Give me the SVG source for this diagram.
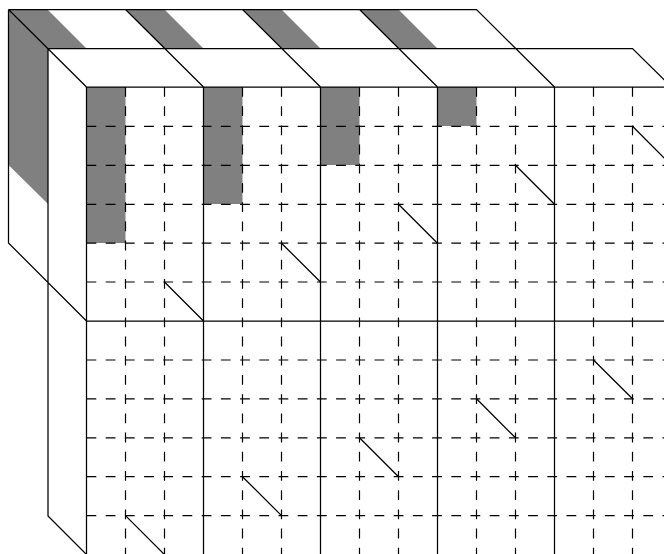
<svg xmlns="http://www.w3.org/2000/svg" width="664" height="554" viewBox="0 0 664 554">
<style>
.g{fill:#808080;stroke:none}
.s{fill:none;stroke:#000;stroke-width:1.25}
.d{fill:none;stroke:#000;stroke-width:1.2;stroke-dasharray:9.8 9.4}
</style>
<rect width="664" height="554" fill="#fff"/>
<path class="g" d="M8.5 9.5H47.5L86.5 48.5H48ZM125.5 9.5H164.5L203.5 48.5H164.5ZM242.5 9.5H281.5L320.5 48.5H281.5ZM359.5 9.5H398.5L437.5 48.5H398.5Z"/>
<path class="g" d="M8.5 9.5L48 48.5V204L8.5 165Z"/>
<path class="g" d="M86.5 87H125.5V243H86.5ZM203.5 87H242.5V204H203.5ZM320.5 87H359.5V165H320.5ZM437.5 87H476.5V126H437.5Z"/>
<path class="d" d="M125.5 87V554M164.5 87V554M242.5 87V554M281.5 87V554M359.5 87V554M398.5 87V554M476.5 87V554M515.5 87V554M593.5 87V554M632.5 87V554"/>
<path class="d" d="M86.5 126.3H664M86.5 165.3H664M86.5 204.3H664M86.5 243.2H664M86.5 282H664M86.5 360H664M86.5 398.8H664M86.5 437.8H664M86.5 476.7H664M86.5 515.6H664"/>
<path class="s" d="M8.5 9.5H476.5L554.5 87M48 48.5H632.5L671.5 87M8.5 9.5V243L86.5 321M8.5 9.5L86.5 87M48 48.5V516L87 555M125.5 9.5L203.5 87M242.5 9.5L320.5 87M359.5 9.5L437.5 87"/>
<path class="s" d="M86.5 87H664M86.5 321H664M86.5 87V554M203.5 87V554M320.5 87V554M437.5 87V554M554.5 87V554"/>
<path class="s" d="M164.5 282L203.5 321M281.5 243.2L320.5 282M398.5 204.3L437.5 243.2M515.5 165.3L554.5 204.3M632.5 126.3L671.5 165.3M593.5 360L632.5 398.8M476.5 398.8L515.5 437.8M359.5 437.8L398.5 476.7M242.5 476.7L281.5 515.6M125.5 515.6L164.5 554.6"/>
</svg>
